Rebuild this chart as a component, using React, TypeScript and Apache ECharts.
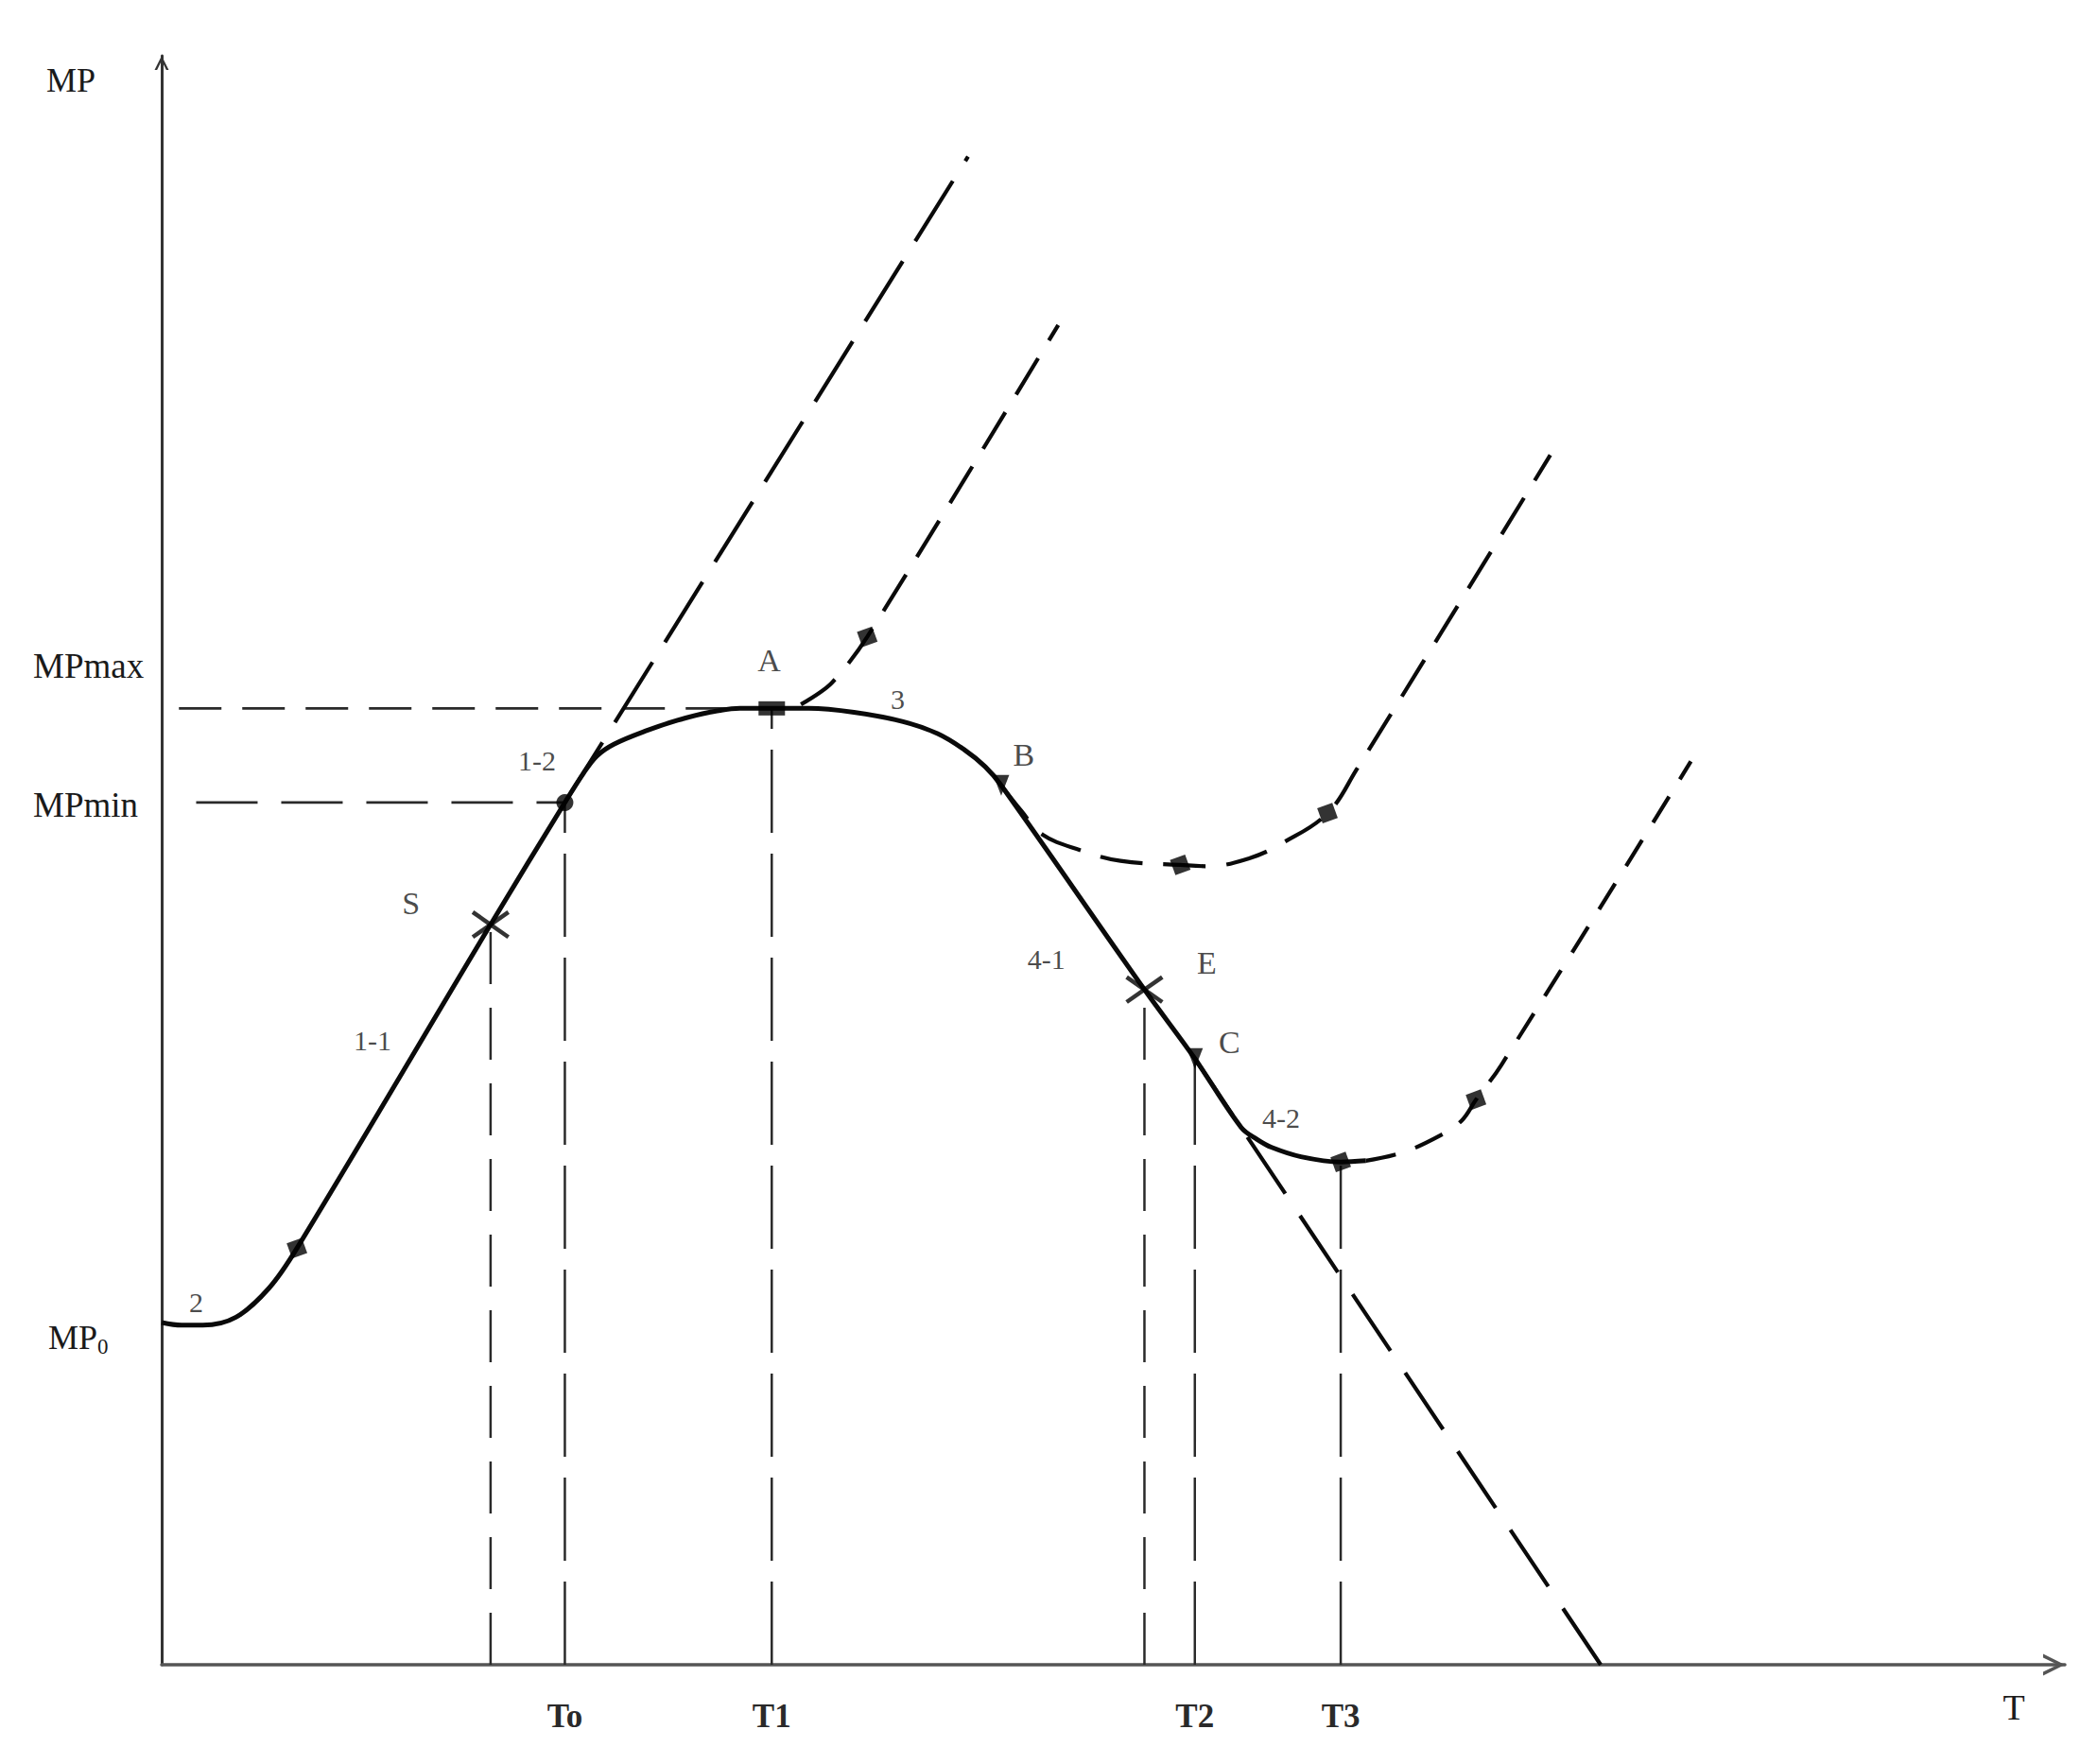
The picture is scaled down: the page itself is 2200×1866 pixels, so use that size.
import React, { useEffect, useRef } from 'react';
import * as echarts from 'echarts';

// ---- axis extents (units) ----
const X_MAX = 1435;
const Y_MAX = 1213;

// ---- tick labels ----
const xTickValues = [304, 460, 779, 889];
const xTickNames = ['To', 'T1', 'T2', 'T3'];
const yTickValues = [721, 650, 258];
const yTickNames = ['MPmax', 'MPmin', 'MP0'];

// ---- curves ----
const mainCurve = [
  [0, 258], [15, 256], [31, 256], [56, 262], [81, 284], [102, 314],
  [248, 558], [304, 650], [318, 672], [328, 685], [341, 694], [365, 704],
  [389, 712], [413, 718], [436, 721], [460, 721], [488, 721], [522, 718],
  [559, 711], [585, 702], [605, 690], [621, 677], [633, 663], [741, 509],
  [779, 457], [814, 405], [826, 396], [837, 390], [859, 383], [889, 379], [908, 380],
];
const upperTangent = [[304, 650], [608, 1137]];
const branchA = [[482, 724], [505, 740], [532, 775], [676, 1010]];
const branchB = [
  [633, 663], [648, 644], [664, 626], [693, 614], [723, 606], [768, 603],
  [788, 602], [820, 608], [846, 620], [879, 642], [901, 675], [1047, 912],
];
const lowerTangent = [[779, 457], [1085, 0]];
const branchT3 = [
  [908, 380], [935, 386], [964, 399], [980, 410], [991, 426], [1010, 452], [1153, 681],
];

// ---- marked points ----
const squareMarks = [[102, 314], [889, 379], [532, 775], [768, 603], [879, 642], [991, 426]];
const circleMarks = [[304, 650]];
const peakMarks = [[460, 721]];
const wedgeMarks = [[633, 663], [779, 457]];
const crossMarks = [[248, 558], [741, 509]];

// ---- point labels ----
const pointLabels = ['2', '1-1', 'S', '1-2', 'A', '3', 'B', '4-1', 'E', 'C', '4-2'];
const pointLabelX = [26, 159, 188, 283, 458, 555, 650, 667, 788, 805, 844];
const pointLabelY = [273, 471, 574, 682, 757, 728, 686, 532, 529, 469, 412];

// ---- guide lines ----
const vGuideX = [248, 304, 460, 741, 779, 889];
const vGuideTop = [558, 650, 721, 509, 457, 379];
const hGuideY = [721, 650];
const hGuideFrom = [13, 26];
const hGuideTo = [460, 304];

// ---- styles ----
const FONT = '"Liberation Serif", "Times New Roman", serif';
const INK = '#0a0a0a';
const GUIDE = '#2a2a2a';
const vGuideDash = [[55, 25], [88, 22], [88, 22], [55, 25], [88, 22], [88, 22]];
const hGuideDash = [[45, 22], [65, 25]];
const CHEVRON = 'path://M0,20 L10,0 L20,20 L16.5,20 L10,6.5 L3.5,20 Z';

function buildOption() {
  const line = (data: number[][], width: number, dash: any, smooth: number, color = INK) => ({
    type: 'line',
    data,
    symbol: 'none',
    smooth,
    silent: true,
    lineStyle: { color, width, type: dash, cap: 'butt' },
    z: 3,
  });

  const series: any[] = [];

  vGuideX.forEach((x, i) => {
    series.push(line([[x, 0], [x, vGuideTop[i]]], 2.5, vGuideDash[i], 0, GUIDE));
  });
  hGuideY.forEach((y, i) => {
    series.push(line([[hGuideFrom[i], y], [hGuideTo[i], y]], 2.8, hGuideDash[i], 0, GUIDE));
  });

  series.push(line(upperTangent, 4.2, [75, 25], 0));
  series.push(line(lowerTangent, 4.2, [72, 28], 0));
  series.push(line(branchA, 4.2, [45, 22], 0.3));
  series.push(line(branchB, 4.2, [45, 22], 0.4));
  series.push(line(branchT3, 4.2, [32, 22], 0.4));
  series.push(line(mainCurve, 5, 'solid', 0.35));

  const marks = (data: number[][], symbol: string, size: any, rotate = 0) => ({
    type: 'scatter',
    data,
    symbol,
    symbolSize: size,
    symbolRotate: rotate,
    silent: true,
    itemStyle: { color: '#000' },
    z: 5,
  });
  series.push(marks(squareMarks, 'rect', 17, 20));
  series.push(marks(circleMarks, 'circle', 18));
  series.push(marks(peakMarks, 'rect', [28, 15]));
  series.push(marks(wedgeMarks, 'triangle', [17, 22], 180));
  series.push(marks(crossMarks, 'rect', [46, 4.5], 35));
  series.push(marks(crossMarks, 'rect', [46, 4.5], -35));

  series.push({
    type: 'scatter',
    silent: true,
    symbol: 'circle',
    symbolSize: 1,
    itemStyle: { color: 'rgba(0,0,0,0)' },
    data: pointLabels.map((t, i) => ({ name: t, value: [pointLabelX[i], pointLabelY[i]] })),
    label: {
      show: true,
      position: 'inside',
      formatter: (p: any) => (/\d/.test(p.name) ? `{n|${p.name}}` : `{l|${p.name}}`),
      rich: {
        n: { fontFamily: FONT, fontSize: 30, color: '#1a1a1a' },
        l: { fontFamily: FONT, fontSize: 34, color: '#1a1a1a' },
      },
    },
    z: 6,
  });

  return {
    animation: false,
    backgroundColor: '#ffffff',
    grid: { left: 171, right: 16, top: 59, bottom: 105, outerBoundsMode: 'none' },
    xAxis: {
      type: 'value',
      min: 0,
      max: X_MAX,
      name: 'T',
      nameLocation: 'end',
      nameGap: -54,
      nameTextStyle: {
        fontFamily: FONT,
        fontSize: 38,
        color: '#1a1a1a',
        align: 'center',
        verticalAlign: 'top',
        lineHeight: 90,
      },
      axisLine: {
        show: true,
        onZero: false,
        lineStyle: { color: '#555', width: 3.5 },
        symbol: ['none', CHEVRON],
        symbolSize: [32, 23],
        symbolOffset: [0, -11.5],
      },
      axisTick: { show: false },
      splitLine: { show: false },
      axisLabel: {
        customValues: xTickValues,
        formatter: (v: number) => xTickNames[xTickValues.indexOf(v)] ?? '',
        fontFamily: FONT,
        fontSize: 35,
        fontWeight: 'bold',
        color: '#2a2a2a',
        margin: 37,
      },
    },
    yAxis: {
      type: 'value',
      min: 0,
      max: Y_MAX,
      name: 'MP',
      nameLocation: 'end',
      nameGap: -26,
      nameTextStyle: {
        fontFamily: FONT,
        fontSize: 36,
        color: '#1a1a1a',
        align: 'center',
        verticalAlign: 'middle',
        padding: [0, 192, 0, 0],
      },
      axisLine: {
        show: true,
        onZero: false,
        lineStyle: { color: '#333', width: 3 },
        symbol: ['none', CHEVRON],
        symbolSize: [25, 15],
        symbolOffset: [0, -7.5],
      },
      axisTick: { show: false },
      splitLine: { show: false },
      axisLabel: {
        customValues: yTickValues,
        formatter: (v: number) => {
          const name = yTickNames[yTickValues.indexOf(v)] ?? '';
          if (name === 'MPmax') return `{up|${name}}`;
          if (name === 'MP0') return `{lo|MP}{sub|0}`;
          return `{mid|${name}}`;
        },
        align: 'left',
        margin: 136,
        rich: {
          up: { fontFamily: FONT, fontSize: 37, color: '#1a1a1a', padding: [0, 0, 89, 0] },
          mid: { fontFamily: FONT, fontSize: 37, color: '#1a1a1a', padding: [6, 0, 0, 0] },
          lo: { fontFamily: FONT, fontSize: 36, color: '#1a1a1a', padding: [36, 0, 0, 16], verticalAlign: 'top' },
          sub: { fontFamily: FONT, fontSize: 23, color: '#1a1a1a', padding: [52, 0, 0, 0], verticalAlign: 'top' },
        },
      },
    },
    series,
  };
}

export default function App() {
  const ref = useRef<HTMLDivElement>(null);
  useEffect(() => {
    document.body.style.margin = '0';
    if (!ref.current) return;
    const chart = echarts.init(ref.current, undefined, { renderer: 'svg' });
    chart.setOption(buildOption() as any);
    return () => chart.dispose();
  }, []);
  return <div ref={ref} style={{ width: 2200, height: 1866, background: '#fff' }} />;
}
